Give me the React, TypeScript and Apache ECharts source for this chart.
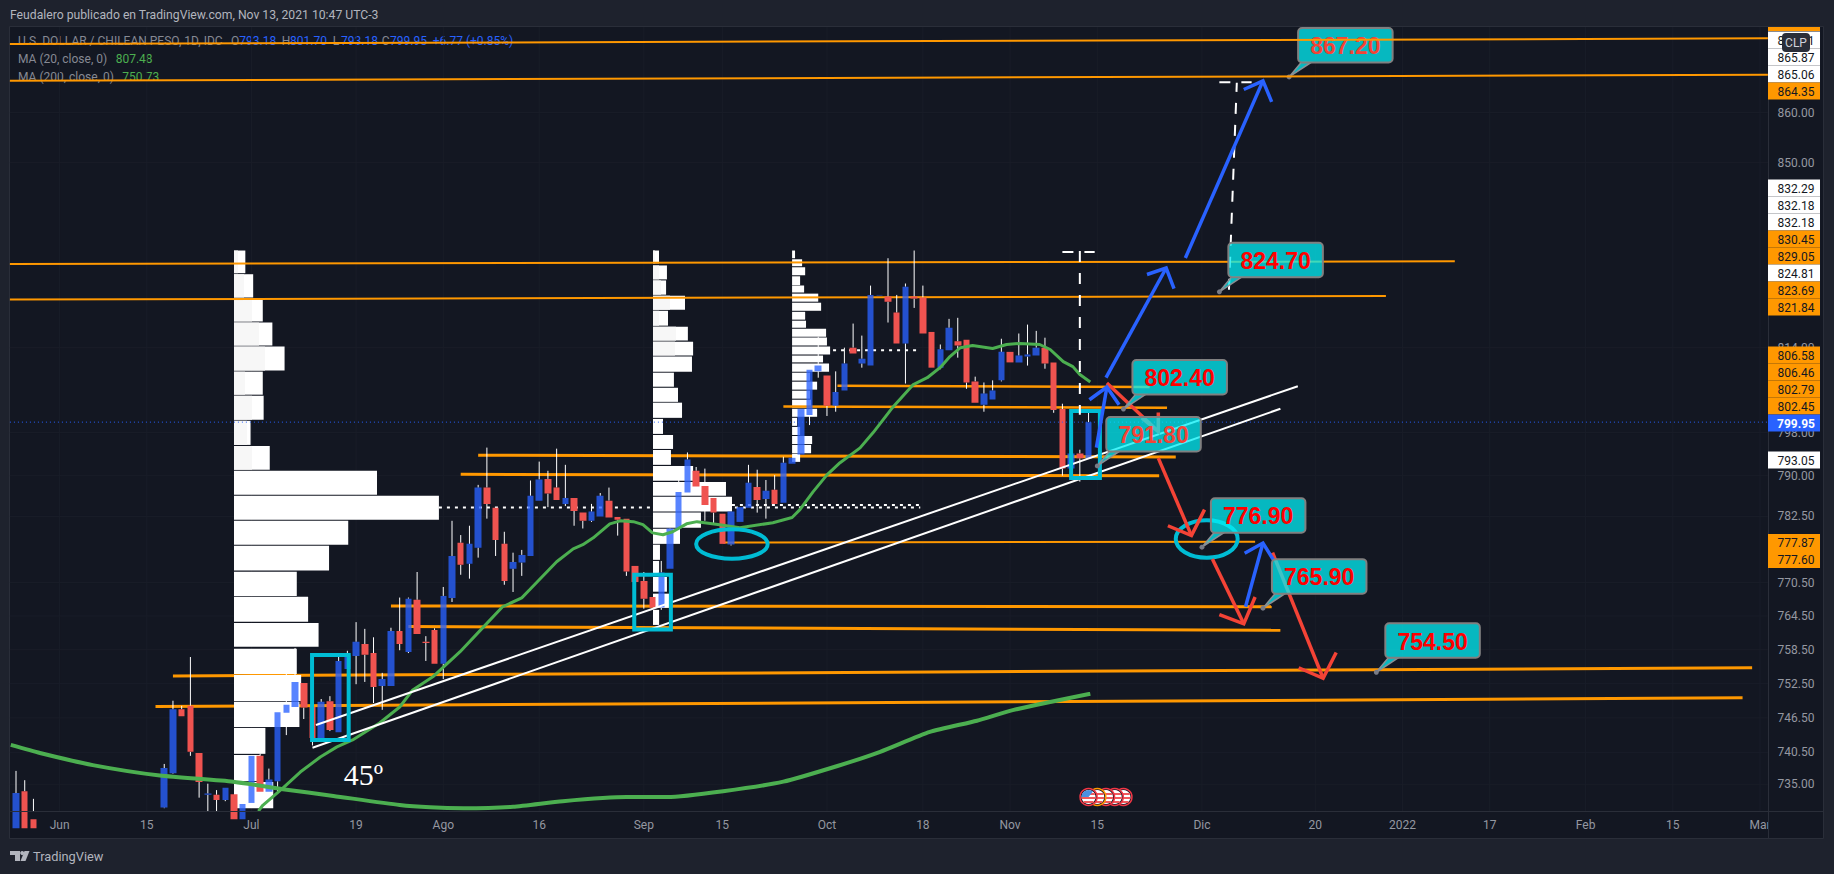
import React, { useEffect, useRef } from "react";
import * as echarts from "echarts";

// ---------- data ----------
const BAR_COUNT = 201;
const priceMin = 730.42;
const priceMax = 877.38;

// [open, close, low, high]; index = bar number
const candles: (number[] | null)[] = [
  [727.5,733.5,727,737.3],[733.8,727.5,727,735.7],[729,727.5,727,732.5],
  null,null,null,null,null,null,null,null,null,null,null,null,null,null,
  [731,737.8,730.9,738.5],[736.9,748,736.8,749.5],[748,746.8,746.8,748.6],[748.6,740.6,739.9,757.2],
  [740.4,735.4,732.7,740.4],[733.2,733.4,729.7,735.1],[733.2,732.3,729.7,734],[732.3,734.4,732.1,734.4],
  [733.3,729,728.5,733.3],[729,731.6,728.5,734.4],[731.8,739.9,731.8,739.9],[739.9,733.7,730.9,740.3],
  [733.7,735.8,731.8,737.7],[735.5,747.5,733.7,747.5],[747.4,748.8,743.5,754.2],[748.4,752.8,748.4,758.8],
  [752.6,748.3,746.3,752.6],[748.4,743,741.7,753.3],[742.7,749.3,742.7,749.8],[749.4,744.4,744.2,750.3],
  [744,756.5,744,757.7],[755.1,757.6,755.1,758.3],[757.4,759.9,752.4,763.4],[759.5,757.6,752.8,762.2],
  [757.9,751.9,749.1,760.7],[752.1,753.3,747.9,754.4],[752.1,761.8,752.1,762.4],[761.8,759.5,758.4,767.8],
  [758.1,767.6,757.9,767.8],[767.4,761.3,761.3,772.4],[759.9,759.7,756.5,760.9],[762,756,756,762.3],
  [756,768.1,753.3,769.7],[767.7,775.3,767,781.7],[777.7,773.7,771.9,779.1],[773.9,777.5,771.2,780.8],
  [776.8,787.8,775,788.3],[787.8,784.8,782.1,795.2],[784.1,778.2,775.3,784.1],[777.5,770.8,770.1,779.7],
  [773,774.2,768.8,775.9],[774.1,775.5,771.7,776.4],[775.3,786.3,775.3,789.1],[785.4,789.3,785.4,792.6],
  [789.4,786.7,784.2,790.9],[787.8,785.5,785.5,795],[784.8,785.9,784.4,792],[785.9,783.5,780.8,785.9],
  [783.2,781.7,780.3,783.2],[781.7,783.4,781.5,784.8],[782.5,786.3,782.5,786.8],[785.4,782.3,782.3,787.8],
  [782.4,781.9,779,782.4],[782.1,772.5,771.7,782.1],[773.5,770.6,770.6,773.5],[770.8,767.6,765.8,772.4],
  [767.9,766,766,767.9],[766,772.3,765.6,774.4],[773,780.3,773,780.4],[780.3,787,780.3,789.2],
  [786.9,793,786.9,794.3],[790.9,788,788,791.6],[788.1,784.6,781.7,791.3],[785.9,783.2,781,785.9],
  [783,777.5,777.5,783],[777.4,783.4,777.2,783.4],[781.5,784.2,781.5,784.2],[784.1,788.7,784.1,792],
  [787.9,785.5,783.2,791.1],[785.7,787.2,782.1,789.2],[787.4,784.8,784.8,790.1],[785,792.4,785,793.5],
  [792.2,793.3,792.2,793.3],[793.9,802.4,793.9,802.4],[801.3,809.8,799.4,809.8],[809.5,810.6,808.3,816.1],
  [808.7,803,801.1,808.7],[803,805.6,801.9,809.5],[805.9,811,805.9,814],[814,812.9,812.9,818.6],
  [811,811.9,810.2,816.3],[810.6,824.1,810.6,825.9],[824,824.1,824,824.1],[823.8,822.8,818.8,831.2],
  [820.7,814.8,814.8,824.1],[814.8,825.7,807.2,826.3],[823.8,823.4,821.6,832.7],[823.6,816.7,816.7,825.9],
  [817,810.2,810.2,817],[810.2,813.7,809.9,814.6],[813.5,817.8,813.5,819.5],[815.2,814.4,812.1,819.7],
  [815.5,807.4,806.2,815.5],[807.6,803.6,803.6,808.5],[803.2,805.3,801.9,807.4],[804.2,805.9,804.2,807.8],
  [807.8,813.2,807.6,815.7],[813.2,811.2,811.2,813.2],[811.2,812.5,811.2,816.7],[812.3,812.7,810.6,818.4],
  [812.5,814,812.5,817.2],[814,811,810,815.9],[811.2,802.2,801.7,811.2],[802.4,791.3,790,803.4],
  [791.3,794.1,789.4,795],[794.1,793.2,788.9,794.8],[793.18,799.95,793.18,801.7],
];

const ma20: number[][] = [
  [27.8,730.4],[28.3,731.4],[30.6,734.35],[32.6,737.1],[34.9,739.7],[36.8,741.45],[38.6,742.65],[41.7,745.6],
  [44,748.4],[45.5,751.4],[47.8,753.7],[50.9,758.1],[53.4,762.2],[55.8,766.15],[58,767.75],[58.9,769.2],
  [62,774.25],[63.9,776.6],[65,777.35],[66.2,778.6],[68.1,781.15],[69.3,781.7],[70.8,781.55],[71.9,781],
  [73,779.5],[74.2,779.15],[75.3,779.7],[76.9,781.15],[78.1,781.55],[80.7,781],[83,780.45],[86.8,781.35],
  [89,782.3],[89.9,783.75],[91.4,787],[93,790.15],[94.5,792.4],[96.8,795.15],[98.3,798],[100.6,802.85],
  [102.9,807],[104.5,808.3],[106,810.25],[107.1,812.3],[108.3,814],[109.7,814.4],[112,813.85],[113.6,814.6],
  [115.1,814.8],[117.4,814.6],[118.6,813.65],[120.1,811.35],[121.2,810.4],[122,808.9],[123.2,807.5],
];
const ma200: number[][] = [
  [-0.6,741.8],[2.75,740.4],[8.8,738.3],[16.5,736.5],[24.9,735.45],[30.6,734.15],[36.4,733],[44,731.45],
  [47.5,731.05],[51.3,730.9],[57,731.15],[62.7,732.1],[70,732.8],[74.7,732.8],[81.1,733.8],[88,735.45],
  [94.2,738.15],[99.1,740.6],[104.8,744.05],[110.2,746],[114.3,747.85],[123.2,750.73],
];

// volume profiles: row high price, row low price, width in bars, lighter part in bars
const profile1Start = 25;
const profile1High = [832.7,828.1,823.4,818.8,814.2,809.45,804.9,800.2,795.5,790.9,786.3,781.7,777.15,772.45,767.95,763.25,758.65,754,749.3,744.75,740.05,735.4];
const profile1Low = [828.3,823.6,819,814.4,809.65,805.1,800.4,795.7,791.1,786.5,781.9,777.35,772.65,768.1,763.45,759,754.2,749.45,744.9,740.25,735.55,730.9];
const profile1Width = [1.3,2.2,3.3,4.4,5.8,3.3,3.4,1.9,4.1,16.4,23.5,13.1,10.9,7.2,8.5,9.7,7.2,7.7,7.5,3.6,3,4.5];
const profile1Light = [0.46,1.15,2.06,2.87,3.55,1.26,2.06,1.49,2.06,0,0,0,0,0,0,0,0,0,0,0,0,0];

const profile2Start = 73.05;
const profile2High = [832.7,829.8,826.9,823.95,821.05,818,815.15,812.3,809.25,806.4,803.6,800.55,797.55,794.75,791.8,788.85,786.1,783.2,780.25,777.35,774.4,771.5,768.5,765.6];
const profile2Low = [830.2,827.1,824.15,821.25,818.2,815.35,812.5,809.45,806.6,803.75,800.75,797.75,794.95,792,789.05,786.3,783.4,780.45,777.5,774.6,771.7,768.85,765.95,762.9];
const profile2Width = [0.69,1.6,1.5,3.67,1.72,4,4.6,4.47,2.4,2.87,3.33,1.15,2.3,2.06,4.6,8.37,9.06,5.5,3.1,0.8,0.7,1.6,2.2,0.7];
const profile2Light = [0.23,0.69,0.92,1.95,0.69,2.64,2.52,0,0,0,0,0,0,0,0,0,0,0,0,0,0,0,0,0];

const profile3Start = 89;
const profile3High = [832.7,831,829.45,827.7,825.9,824.35,822.6,820.85,819.15,817.6,815.95,814.2,812.5,811,809.25,807.55,805.85,804.15,802.45,800.75,799.05,797.35,795.7,794.05];
const profile3Low = [831.2,829.65,827.9,826,824.55,822.8,821.05,819.35,817.8,816.1,814.4,812.7,811.2,809.45,807.75,806.05,804.35,802.65,800.95,799.25,797.55,795.85,794.15,792.55];
const profile3Width = [0.34,1.15,1.5,0.92,1.38,3,3.33,1.5,1.6,3.9,4,4.36,3.55,4.24,2.06,2.87,2.06,2.18,2.87,0.57,0.92,2.3,2.18,0.92];

// drawn levels: [bar1, price1, bar2, price2]
const topLevels = [[-0.7,873.9,200.9,875.05],[-0.7,866.4,200.9,867.65]];
const overLevels = [[-0.7,830.1,165,830.6],[-0.7,823.2,157.1,823.9],[94.2,806.8,130,806.55],[88,802.9,132,802.65]];
const underLevels = [[53,793.8,133,793.45],[51,790.25,131.1,790],[81.1,777.75,142.1,777.9],[43,766.3,144,766.15],[45,762.6,145,761.95],[18,753.85,199.1,755.3],[16,748.5,198,750]];
const trendLines = [[34.4,745.25,147,806.7],[34,741.3,145,802.45]];
const pocLines = [[48.5,784.15,103.7,784.15],[82.1,784.6,104.1,784.6],[93.7,813.5,103.7,813.5]];
const dashLines = [[122,832.6,122,801.35],[120,832.4,123.7,832.4],[139.1,825.1,140,866],[138,866.1,141.7,866.1]];
// [left bar, right bar, top price, bottom price]
const boxes = [[33.95,38.15,757.55,742.65],[70.9,75.1,771.9,762.1],[121,124.3,802.05,789.55]];
const ellipses = [[78,86.2,780.15,774.8],[133,140.1,781.8,775]];
// [start, tip, barb, barb] as bar/price pairs
const blueArrows = [
  [[123.9,795.2],[125.1,806.55],[123.1,804.15],[126.5,803.2]],
  [[125,808.3],[131.9,829.3],[129.7,828.05],[132.8,825.3]],
  [[134.1,831.25],[143,866.4],[140.8,864.65],[144,862.15]],
  [[141,766.15],[143,777.65],[140.9,775.8],[144.2,774.6]],
];
const redArrows = [
  [[125.1,807.3],[131,798.2],[131,801.75],[129.1,800.75]],
  [[131,793.25],[134.8,779],[132.1,780.8],[136.3,783.75]],
  [[137.2,774.75],[140.8,763.1],[138,764.75],[142.1,767.9]],
  [[144.1,775.9],[149.9,753.45],[147.1,755.3],[151.4,758]],
];
const calloutLabels = ["867.20","824.70","802.40","791.80","776.90","765.90","754.50"];
const calloutBars = [146,138,127,124,136,143,156];
const calloutPrices = [867.2,824.7,802.4,791.8,776.9,765.9,754.5];
const calloutDim = ["867.20","791.80"];
const eventBars = [127,126,125,124,123];
const angleNote = { text: "45º", bar: 37.6, price: 736.6 };

const lastPrice = 799.95;
const priceTicks = [860,850,814,798,790,782.5,770.5,764.5,758.5,752.5,746.5,740.5,735];
const xTickBars = [5,15,27,39,49,60,71.6,81,93,104,114,124,136,149,159,169,180,190,200].map(Math.round);
const xTickLabels = ["Jun","15","Jul","19","Ago","16","Sep","15","Oct","18","Nov","15","Dic","20","2022","17","Feb","15","Mar"];

// price-axis tags, stacked top to bottom: w = white, o = orange, b = blue
const tagGroupA = [["865.91","w"],["865.87","w"],["865.06","w"],["864.35","o"]];
const tagGroupB = [["832.29","w"],["832.18","w"],["832.18","w"],["830.45","o"],["829.05","o"],["824.81","w"],["823.69","o"],["821.84","o"]];
const tagGroupC = [["806.58","o"],["806.46","o"],["802.79","o"],["802.45","o"],["799.95","b"]];
const tagGroupD = [["793.05","w"]];
const tagGroupE = [["777.87","o"],["777.60","o"]];

const titleText = "Feudalero publicado en TradingView.com, Nov 13, 2021 10:47 UTC-3";
const symbolText = "U.S. DOLLAR / CHILEAN PESO, 1D, IDC";
const ohlc = [["O","793.18"],["H","801.70"],["L","793.18"],["C","799.95"]];
const changeText = "+6.77 (+0.85%)";
const maRows = [["MA (20, close, 0)","807.48"],["MA (200, close, 0)","750.73"]];

// ---------- styles ----------
const FONT = "Roboto, 'Noto Sans', sans-serif";
const C = {
  outer: "#1e222d", pane: "#131722", border: "#2a2e39", grid: "#191d28", tick: "#9598a1",
  orange: "#ff9800", blue: "#2962ff", red: "#f44336", green: "#4caf50", cyan: "#00bcd4",
  candleUp: "rgba(41,98,255,0.78)", candleDown: "#ef5350", legend: "#868993",
};

function layer(name: string, z: number, draw: (c: (p: number[]) => number[], sys: any) => any[], clip = false) {
  return {
    type: "custom", name, xAxisIndex: 1, yAxisIndex: 0, z, clip, silent: true,
    data: [[0, 800]],
    renderItem: (params: any, api: any) => ({
      type: "group",
      children: draw((p) => api.coord(p), params.coordSys),
    }),
  };
}
const seg = (c: any, l: number[], stroke: string, lineWidth: number, lineDash?: number[]) => {
  const a = c([l[0], l[1]]);
  const b = c([l[2], l[3]]);
  return { type: "line", shape: { x1: a[0], y1: a[1], x2: b[0], y2: b[1] }, style: { stroke, lineWidth, lineDash, fill: null } };
};
function profileRows(c: any, start: number, hi: number[], lo: number[], w: number[], light?: number[]) {
  const out: any[] = [];
  hi.forEach((h, i) => {
    const a = c([start, h]);
    const b = c([start + w[i], lo[i]]);
    out.push({ type: "rect", shape: { x: a[0], y: a[1], width: b[0] - a[0], height: b[1] - a[1] }, style: { fill: "#ffffff" } });
    if (light && light[i]) {
      const d = c([start + light[i], lo[i]]);
      out.push({ type: "rect", shape: { x: a[0], y: a[1], width: d[0] - a[0], height: b[1] - a[1] }, style: { fill: "#f7f7f7" } });
    }
  });
  return out;
}
function arrow(c: any, a: number[][], stroke: string) {
  const pts = a.map((p) => c(p));
  return [
    { type: "line", shape: { x1: pts[0][0], y1: pts[0][1], x2: pts[1][0], y2: pts[1][1] }, style: { stroke, lineWidth: 3.5 } },
    { type: "polyline", shape: { points: [pts[2], pts[1], pts[3]] }, style: { stroke, lineWidth: 3.5, fill: null } },
  ];
}
function callout(c: any, i: number) {
  const a = c([calloutBars[i], calloutPrices[i]]);
  const left = a[0] + 9;
  const top = a[1] - 49;
  const w = 94.5;
  const h = 34.5;
  const fill = "rgba(3,239,245,0.75)";
  const label = calloutLabels[i];
  return [
    { type: "polygon", shape: { points: [[left + 3, top + h], [left + 13, top + h], a] }, style: { fill, stroke: "#8a8f95", lineWidth: 1.5 } },
    { type: "circle", shape: { cx: a[0], cy: a[1], r: 2.5 }, style: { fill: "#787b86" } },
    { type: "rect", shape: { x: left, y: top, width: w, height: h, r: 4 }, style: { fill, stroke: "#808080", lineWidth: 2 } },
    { type: "text", style: { text: label, x: left + w / 2, y: top + h / 2 + 1, fill: calloutDim.includes(label) ? C.red : "#ff0000", fontFamily: "'Liberation Sans', Arial, sans-serif", fontSize: 23, fontWeight: "bold", align: "center", verticalAlign: "middle" } },
  ];
}
function eventFlag(x: number, y: number, i: number, last: boolean) {
  const stroke = i === 3 ? C.orange : "#f23645";
  const out: any[] = [
    { type: "circle", shape: { cx: x, cy: y, r: 8.5 }, style: { fill: "#131722", stroke, lineWidth: 1.5 } },
    { type: "circle", shape: { cx: x, cy: y, r: 7 }, style: { fill: "#ffffff" } },
    { type: "line", shape: { x1: x - 6.3, y1: y - 3, x2: x + 6.3, y2: y - 3 }, style: { stroke: "#f0595c", lineWidth: 2 } },
    { type: "line", shape: { x1: x - 7, y1: y + 1, x2: x + 7, y2: y + 1 }, style: { stroke: "#f0595c", lineWidth: 2 } },
    { type: "line", shape: { x1: x - 5, y1: y + 5, x2: x + 5, y2: y + 5 }, style: { stroke: "#f0595c", lineWidth: 2 } },
  ];
  if (last) out.push({ type: "sector", shape: { cx: x, cy: y, r: 7, r0: 0, startAngle: Math.PI, endAngle: Math.PI * 1.72 }, style: { fill: "#4a90e2" } });
  return out;
}

function txt(text: string, x: number, y: number, fill: string, fontSize: number, z: number, align = "left", extra: any = {}) {
  return { type: "text", x, y, z, silent: true, style: { text, fill, fontSize, fontFamily: FONT, align, verticalAlign: "middle", ...extra } };
}
function tagStack(group: string[][], top: number) {
  const out: any[] = [];
  const H = 17;
  group.forEach((g, i) => {
    const y = top + i * H;
    const bg = g[1] === "o" ? C.orange : g[1] === "b" ? "#2962ff" : "#ffffff";
    const fg = g[1] === "b" ? "#ffffff" : "#131722";
    out.push({ type: "rect", z: 70, silent: true, shape: { x: 1768, y, width: 52, height: H }, style: { fill: bg } });
    out.push(txt(g[0], 1796, y + H / 2 + 0.5, fg, 12, 71, "center", g[1] === "b" ? { fontWeight: "bold" } : {}));
  });
  return out;
}

function buildOption() {
  const candleData = candles.map((k) => (k ? k : ["-", "-", "-", "-"]));
  const tv = xTickBars.reduce((m: Record<number, string>, b, i) => ((m[b] = xTickLabels[i]), m), {});

  const legend: any[] = [
    txt(titleText, 10, 15, "#b2b5be", 12.2, 2),
    txt(symbolText, 18, 41, C.legend, 12, 2),
    ...ohlc.flatMap((o, i) => {
      const xs = [231, 281.7, 332.7, 381.7];
      return [
        txt(o[0], xs[i], 41, C.legend, 12, 2),
        txt(o[1], xs[i] + 8.3, 41, C.blue, 12, 2),
      ];
    }),
    txt(changeText, 432.7, 41, C.blue, 12, 2),
    txt(maRows[0][0], 18, 59, C.legend, 12, 2),
    txt(maRows[0][1], 115.7, 59, C.green, 12, 2),
    txt(maRows[1][0], 18, 77, C.legend, 12, 2),
    txt(maRows[1][1], 122.3, 77, C.green, 12, 2),
  ];

  const frame: any[] = [
    { type: "rect", z: 1, silent: true, shape: { x: 9.5, y: 26.5, width: 1814, height: 812 }, style: { fill: C.pane, stroke: C.border, lineWidth: 1 } },
    { type: "rect", z: 50, silent: true, shape: { x: 1768.5, y: 27, width: 54.5, height: 811 }, style: { fill: C.pane } },
    { type: "line", z: 51, silent: true, shape: { x1: 1768.5, y1: 27, x2: 1768.5, y2: 838 }, style: { stroke: C.border, lineWidth: 1 } },
    { type: "line", z: 51, silent: true, shape: { x1: 10, y1: 811.5, x2: 1823, y2: 811.5 }, style: { stroke: C.border, lineWidth: 1 } },
    { type: "rect", z: 80, silent: true, shape: { x: 1782, y: 33, width: 28, height: 19, r: 4 }, style: { fill: "#2a2e39" } },
    txt("CLP", 1796, 43, "#d1d4dc", 12, 81, "center"),
    { type: "polygon", z: 2, silent: true, shape: { points: [[10, 851], [20, 851], [20, 861], [15, 861], [15, 855], [10, 855]] }, style: { fill: "#b2b5be" } },
    { type: "circle", z: 2, silent: true, shape: { cx: 22.2, cy: 853, r: 2 }, style: { fill: "#b2b5be" } },
    { type: "polygon", z: 2, silent: true, shape: { points: [[24.5, 851], [29.5, 851], [25.5, 861], [20.5, 861]] }, style: { fill: "#b2b5be" } },
    txt("TradingView", 33, 856, "#b2b5be", 12.8, 2),
  ];

  const tags = [
    { type: "rect", z: 70, silent: true, shape: { x: 1768, y: 27, width: 52, height: 4 }, style: { fill: C.orange } },
    ...tagStack(tagGroupA, 31.5),
    ...tagStack(tagGroupB, 179.5),
    ...tagStack(tagGroupC, 346.5),
    ...tagStack(tagGroupD, 451.5),
    ...tagStack(tagGroupE, 534),
  ];

  return {
    animation: false,
    backgroundColor: C.outer,
    grid: { left: 11.64, right: 69.64, top: 27, bottom: 63, containLabel: false },
    xAxis: [
      {
        type: "category", z: 3,
        data: Array.from({ length: BAR_COUNT }, (_, i) => String(i)),
        axisLine: { show: false }, axisTick: { show: false }, splitLine: { show: false },
        axisLabel: {
          interval: (i: number) => tv[i] !== undefined,
          formatter: (_: string, i: number) => tv[i] ?? "",
          color: C.tick, fontSize: 12, fontFamily: FONT, margin: 8, hideOverlap: false,
        },
      },
      { type: "value", min: -0.5, max: BAR_COUNT - 0.5, show: false, position: "top" },
    ],
    yAxis: [{ type: "log", logBase: 10, min: priceMin, max: priceMax, show: false, splitLine: { show: false } }],
    graphic: { elements: [...frame, ...legend, ...tags] },
    series: [
      layer("grid", 2, (c) => [
        ...xTickBars.map((b) => seg(c, [b, priceMin, b, priceMax], C.grid, 1)),
        ...priceTicks.map((p) => seg(c, [-0.7, p, 200.9, p], C.grid, 1)),
      ]),
      layer("levels under", 3, (c) => underLevels.map((l, i) => seg(c, l, C.orange, i === 2 ? 2 : 3))),
      layer("profiles", 4, (c) => [
        ...profileRows(c, profile1Start, profile1High, profile1Low, profile1Width, profile1Light),
        ...profileRows(c, profile2Start, profile2High, profile2Low, profile2Width, profile2Light),
        ...profileRows(c, profile3Start, profile3High, profile3Low, profile3Width),
      ]),
      layer("poc", 5, (c) => pocLines.map((l) => seg(c, l, "#ffffff", 2, [3, 5]))),
      layer("levels over", 5, (c) => overLevels.map((l, i) => seg(c, l, C.orange, i < 2 ? 2 : 2.5))),
      layer("wicks", 6, (c) => {
        const out: any[] = [];
        candles.forEach((k, i) => {
          if (!k) return;
          const top = Math.max(k[0], k[1]);
          const bot = Math.min(k[0], k[1]);
          if (k[3] > top) out.push(seg(c, [i, k[3], i, top], "#ffffff", 1));
          if (k[2] < bot) out.push(seg(c, [i, bot, i, k[2]], "#ffffff", 1));
        });
        return out;
      }, true),
      {
        type: "candlestick", name: "USD/CLP", xAxisIndex: 0, yAxisIndex: 0, z: 7, silent: true, barWidth: 7,
        data: candleData,
        itemStyle: { color: C.candleUp, color0: C.candleDown, borderColor: "transparent", borderColor0: "transparent", borderWidth: 0 },
      },
      {
        type: "line", name: "MA 200", xAxisIndex: 1, yAxisIndex: 0, z: 8, silent: true, showSymbol: false, data: ma200,
        lineStyle: { color: C.green, width: 4 }, smooth: 0.2,
      },
      {
        type: "line", name: "MA 20", xAxisIndex: 1, yAxisIndex: 0, z: 8, silent: true, showSymbol: false, data: ma20,
        lineStyle: { color: C.green, width: 3 },
      },
      layer("last price", 8, (c) => [seg(c, [-0.7, lastPrice, 200.9, lastPrice], C.blue, 1, [1, 3])]),
      layer("trend", 9, (c) => trendLines.map((l) => seg(c, l, "#ffffff", 2))),
      layer("shapes", 9, (c) => [
        ...boxes.map((b) => {
          const a = c([b[0], b[2]]);
          const d = c([b[1], b[3]]);
          return { type: "rect", shape: { x: a[0], y: a[1], width: d[0] - a[0], height: d[1] - a[1] }, style: { fill: null, stroke: C.cyan, lineWidth: 4 } };
        }),
        ...ellipses.map((b) => {
          const a = c([b[0], b[2]]);
          const d = c([b[1], b[3]]);
          return { type: "ellipse", shape: { cx: (a[0] + d[0]) / 2, cy: (a[1] + d[1]) / 2, rx: (d[0] - a[0]) / 2, ry: (d[1] - a[1]) / 2 }, style: { fill: null, stroke: C.cyan, lineWidth: 4 } };
        }),
      ]),
      layer("dashes", 9, (c) => dashLines.map((l) => seg(c, l, "#ffffff", 2, [11, 11]))),
      layer("arrows", 10, (c) => [
        ...redArrows.flatMap((a) => arrow(c, a, C.red)),
        ...blueArrows.flatMap((a) => arrow(c, a, C.blue)),
      ]),
      layer("callouts", 11, (c) => calloutLabels.flatMap((_, i) => callout(c, i))),
      layer("levels top", 12, (c) => topLevels.map((l) => seg(c, l, C.orange, 2))),
      layer("note", 12, (c) => {
        const p = c([angleNote.bar, angleNote.price]);
        return [{ type: "text", style: { text: angleNote.text, x: p[0], y: p[1], fill: "#ffffff", fontFamily: "'Liberation Serif', serif", fontSize: 30, align: "left", verticalAlign: "middle" } }];
      }),
      layer("events", 12, (c, sys) => {
        const y = sys.y + sys.height - 14;
        return eventBars.flatMap((b, i) => eventFlag(c([b, 800])[0], y, i, i === eventBars.length - 1));
      }),
      layer("price ticks", 60, (c, sys) =>
        priceTicks.map((p) => ({
          type: "text",
          style: { text: p.toFixed(2), x: 1796, y: c([0, p])[1], fill: C.tick, fontFamily: FONT, fontSize: 12, align: "center", verticalAlign: "middle" },
        }))
      ),
    ],
  };
}

export default function App() {
  const ref = useRef<HTMLDivElement>(null);
  useEffect(() => {
    const chart = echarts.init(ref.current as HTMLDivElement, undefined, { renderer: "svg" });
    chart.setOption(buildOption() as any);
    return () => chart.dispose();
  }, []);
  return <div ref={ref} style={{ position: "fixed", left: 0, top: 0, width: 1834, height: 874 }} />;
}
